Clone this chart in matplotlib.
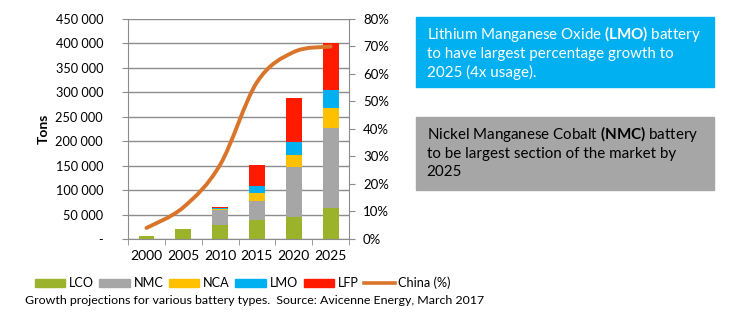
import numpy as np
import matplotlib.pyplot as plt
from matplotlib.patches import Patch, PathPatch
from matplotlib.lines import Line2D
from matplotlib.path import Path
from matplotlib.ticker import FuncFormatter, MultipleLocator

plt.rcParams['font.family'] = ['Lato', 'DejaVu Sans']
plt.rcParams['mathtext.fontset'] = 'custom'
plt.rcParams['mathtext.rm'] = 'Lato'
plt.rcParams['mathtext.bf'] = 'Lato:bold'

# datos (toneladas)
years = ['2000', '2005', '2010', '2015', '2020', '2025']
lco = [5500, 19500, 29000, 39500, 46000, 63000]
nmc = [0, 1000, 30000, 38500, 100500, 165000]
nca = [0, 0, 1500, 16000, 25500, 40000]
lmo = [0, 0, 3000, 14000, 26000, 36000]
lfp = [0, 0, 2500, 43000, 90500, 97000]
china = [4, 11.5, 27, 57, 68, 70]   # [%]

series = [("LCO", lco, "#9BB32B"), ("NMC", nmc, "#A6A6A6"),
          ("NCA", nca, "#FFC000"), ("LMO", lmo, "#00B0F0"),
          ("LFP", lfp, "#FF1A00")]
line_col = "#D9742B"
grid_col = "#8C8C8C"

fig = plt.figure(figsize=(7.5, 3.22), dpi=100)
ax = fig.add_axes([0.1707, 0.2578, 0.2947, 0.6832])

x = np.arange(len(years))
bottom = np.zeros(len(years))
for name, vals, col in series:
    ax.bar(x, vals, 0.43, bottom=bottom, color=col, zorder=2, label=name)
    bottom += np.array(vals)

ax.set_xlim(-0.5, len(years) - 0.5)
ax.set_ylim(0, 450000)
ax.yaxis.set_major_locator(MultipleLocator(50000))
ax.yaxis.set_major_formatter(FuncFormatter(
    lambda v, p: "-" if v == 0 else f"{int(v):,}".replace(",", " ")))
ax.set_xticks(x)
ax.set_xticklabels(years)
ax.set_xticks(np.arange(-0.5, len(years)), minor=True)
ax.tick_params(axis='x', which='major', length=0, pad=8, labelsize=10)
ax.tick_params(axis='x', which='minor', length=4, color=grid_col)
ax.tick_params(axis='y', length=4, color=grid_col, labelsize=9.2, pad=14)
ax.grid(axis='y', color=grid_col, linewidth=1, zorder=0)
ax.set_axisbelow(True)
for s in ['left', 'bottom', 'right']:
    ax.spines[s].set_color(grid_col)
ax.spines['top'].set_visible(False)
ax.set_ylabel("Tons", fontsize=10, fontweight='bold', labelpad=4)

ax2 = ax.twinx()
ax2.set_ylim(0, 80)
ax2.yaxis.set_major_locator(MultipleLocator(10))
ax2.yaxis.set_major_formatter(FuncFormatter(lambda v, p: f"{int(v)}%"))
ax2.tick_params(axis='y', length=4, color=grid_col, labelsize=9.5, pad=6)
for s in ['left', 'bottom', 'right', 'top']:
    ax2.spines[s].set_visible(False)

# linea suavizada estilo Excel (bezier por los puntos)
px = x.astype(float)
py = np.array(china, dtype=float)
verts = [(px[0], py[0])]
codes = [Path.MOVETO]
n = len(px)
for i in range(n - 1):
    i0 = max(i - 1, 0)
    i3 = min(i + 2, n - 1)
    c1 = (px[i] + (px[i + 1] - px[i0]) / 6, py[i] + (py[i + 1] - py[i0]) / 6)
    c2 = (px[i + 1] - (px[i3] - px[i]) / 6, py[i + 1] - (py[i3] - py[i]) / 6)
    verts += [c1, c2, (px[i + 1], py[i + 1])]
    codes += [Path.CURVE4] * 3
ax2.add_patch(PathPatch(Path(verts, codes), fill=False, edgecolor=line_col,
                        linewidth=2.8, capstyle='round', zorder=3))

handles = [Patch(color=col, label=name) for name, _, col in series]
handles.append(Line2D([], [], color=line_col, linewidth=2.6, label="China (%)"))
fig.legend(handles=handles, ncol=6, loc='center left',
           bbox_to_anchor=(0.046, 0.121), frameon=False, fontsize=9.1,
           handlelength=2.4, handleheight=0.55, handletextpad=0.3,
           columnspacing=0.45, borderaxespad=0, borderpad=0)

fig.text(0.033, 0.068, "Growth projections for various battery types.  "
         "Source: Avicenne Energy, March 2017", fontsize=8.9, va='center')

# cajas de texto
fig.patches.append(plt.Rectangle((0.5547, 0.7298), 0.3973, 0.2174,
                                 transform=fig.transFigure, color="#00B0F0"))
fig.text(0.569, 0.925,
         "Lithium Manganese Oxide $\\mathbf{(LMO)}$ battery\n"
         "to have largest percentage growth to\n2025 (4x usage).",
         color="white", fontsize=10.9, va='top', linespacing=1.3)

fig.patches.append(plt.Rectangle((0.5547, 0.4099), 0.3973, 0.2267,
                                 transform=fig.transFigure, color="#A6A6A6"))
fig.text(0.569, 0.615,
         "Nickel Manganese Cobalt $\\mathbf{(NMC)}$ battery\n"
         "to be largest section of the market by\n2025",
         color="black", fontsize=10.9, va='top', linespacing=1.3)

fig.savefig("out.png", dpi=100)
